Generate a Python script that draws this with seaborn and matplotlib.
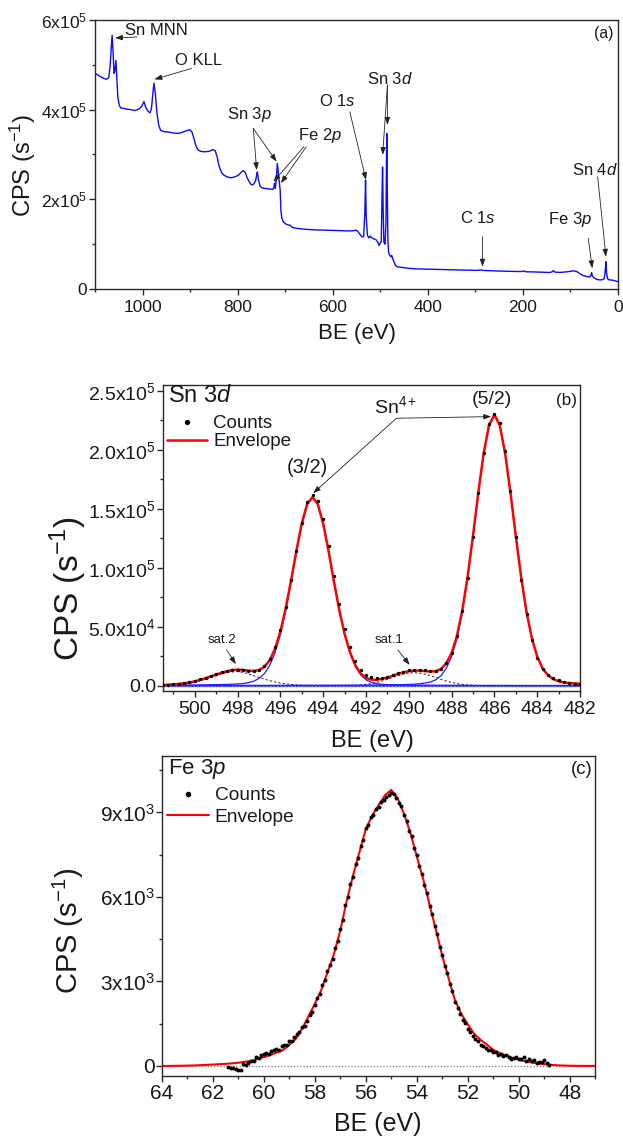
import numpy as np
import matplotlib
matplotlib.use("Agg")
import matplotlib.pyplot as plt
import seaborn as sns
from matplotlib.lines import Line2D
from matplotlib.ticker import FixedLocator, FixedFormatter, MultipleLocator

# ---------------- (a) survey spectrum ----------------
survey_be = [1100, 1092, 1084, 1076, 1071, 1068, 1066, 1064, 1062, 1060,
             1058, 1056, 1054, 1052, 1049, 1046, 1040, 1032, 1024, 1016,
             1008, 1002, 997, 993, 988, 984, 981, 978, 976, 973,
             970, 966, 962, 955, 945, 935, 925, 915, 905, 900,
             896, 892, 888, 884, 878, 870, 860, 852, 847, 843,
             839, 834, 829, 822, 814, 806, 798, 792, 788, 784,
             780, 775, 771, 766, 762, 760, 758.5, 756.5, 753, 748,
             740, 732, 726, 723.5, 722.5, 721, 719, 716.5, 714.5, 712.5,
             710.5, 709, 707, 704, 699, 694, 690, 686, 680, 670,
             655, 640, 620, 600, 580, 565, 556, 551, 547, 542,
             538, 535, 532.5, 531, 529.5, 527, 524, 521, 518, 514,
             509, 505, 502.5, 500, 498, 496.5, 495.2, 494, 492.5, 490,
             488, 487, 486.3, 485.3, 484, 482.5, 480.5, 478, 476, 474,
             471, 468, 464, 458, 450, 440, 425, 410, 395, 375,
             355, 335, 315, 298, 288, 284, 270, 250, 230, 212,
             202, 198, 194, 180, 160, 145, 139, 136, 132, 122,
             110, 100, 93, 86, 80, 74, 66, 60, 57, 55.5,
             54, 51, 46, 40, 33, 29, 27, 25.5, 24, 22,
             19, 14, 9, 4, 0]
survey_cps = [481000, 476000, 471000, 467500, 472000, 500000, 535000, 566000, 528000, 481000,
              488000, 510000, 470000, 428000, 410000, 404000, 403000, 401000, 400000, 398000,
              401000, 407000, 418000, 404000, 396000, 393000, 405000, 440000, 459000, 435000,
              395000, 365000, 354000, 351000, 350000, 348000, 347000, 350000, 354000, 355000,
              350000, 336000, 320000, 311000, 307000, 306000, 307000, 311000, 308000, 294000,
              274000, 260000, 254000, 250000, 248000, 250000, 254000, 261000, 264000, 260000,
              248000, 238000, 232000, 234000, 242000, 255000, 261000, 245000, 230000, 225000,
              224000, 223000, 222000, 228000, 236000, 224000, 240000, 280000, 258000, 240000,
              220000, 175000, 158000, 150000, 145000, 143000, 142500, 138000, 136000, 134500,
              133000, 132000, 131500, 130500, 130000, 129500, 130000, 131500, 128000, 121000,
              116000, 117000, 170000, 243000, 160000, 120000, 114000, 118000, 114000, 112000,
              110000, 104000, 97000, 103000, 105000, 190000, 272000, 180000, 105000, 100000,
              150000, 280000, 347000, 230000, 110000, 82000, 76000, 72000, 75000, 68000,
              60000, 53000, 49500, 48500, 47500, 46000, 45000, 44500, 44000, 43500,
              43000, 42500, 42000, 41500, 42500, 41500, 41000, 40000, 39500, 39000,
              39000, 40500, 38500, 38000, 37500, 36800, 38000, 41000, 37500, 37000,
              38000, 39500, 40500, 38500, 34000, 30000, 28000, 26500, 30000, 36500,
              29000, 25500, 22000, 20500, 20500, 23000, 38000, 61000, 36000, 23000,
              20500, 20000, 19000, 17500, 16300]

# ---------------- (b) Sn 3d ----------------
sn_be = np.arange(501.5, 481.9, -0.25)
sn_counts = [500, 750, 1100, 1600, 2300, 3000, 4000, 5300,
             6800, 8300, 9800, 11200, 12300, 13100, 13400, 13100,
             12500, 12700, 13600, 16900, 23000, 33000, 47500, 66500,
             89500, 114000, 138000, 155500, 161500, 157000, 141000, 118500,
             93000, 69000, 48500, 32500, 21000, 13500, 9200, 7300,
             6600, 6900, 7800, 9200, 10800, 12000, 13000, 13400,
             13300, 12900, 12600, 12800, 14500, 19500, 28000, 42000,
             63000, 91500, 126000, 163000, 197000, 222000, 230000, 222500,
             199000, 165000, 126000, 90000, 60500, 38500, 23500, 14500,
             9200, 6300, 4600, 3300, 2400, 1800, 1400]
sn_envelope = [647, 819, 1074, 1452, 1989, 2738, 3716, 4932,
               6355, 7922, 9510, 11004, 12255, 13175, 13663, 13354,
               12732, 12485, 13291, 16032, 21649, 31359, 45990, 65719,
               89427, 114689, 137677, 154032, 159965, 153912, 137394, 114144,
               88527, 64316, 43958, 28543, 17311, 10316, 6597, 5114,
               5004, 5774, 6985, 8480, 10002, 11340, 12292, 12770,
               12772, 12420, 11992, 12235, 14135, 18952, 27649, 42222,
               63850, 92752, 127334, 164055, 197390, 221086, 229706, 221026,
               197266, 163820, 126911, 92021, 62640, 40305, 24762, 14821,
               8873, 5564, 3770, 2803, 2249, 1925, 1670]
sn_comp32 = [367, 400, 430, 462, 494, 540, 590, 650,
             718, 798, 877, 973, 1085, 1260, 1483, 1866,
             2536, 3780, 6077, 10208, 17114, 27913, 43432, 63848,
             88092, 113739, 136979, 153487, 159500, 153487, 136979, 113739,
             88092, 63848, 43432, 27913, 16500, 9200, 5000, 2800,
             1700, 1200, 900, 750, 650, 580, 520, 470,
             430, 400, 370, 345, 320, 300, 280, 265,
             250, 237, 225, 214, 204, 195, 186, 178,
             171, 164, 158, 152, 147, 142, 137, 133,
             129, 125, 121, 118, 115, 112, 109]
sn_comp52 = [110, 113, 117, 121, 125, 129, 133, 138,
             143, 148, 154, 160, 166, 173, 180, 188,
             196, 205, 214, 224, 235, 246, 258, 271,
             285, 300, 318, 335, 355, 375, 395, 405,
             415, 425, 435, 445, 455, 470, 490, 520,
             560, 610, 670, 740, 830, 940, 1080, 1300,
             1650, 2200, 3100, 4900, 8400, 14688, 24625, 40163,
             62493, 91869, 126753, 163656, 197095, 220848, 229500, 220848,
             197095, 163656, 126753, 91869, 62493, 40163, 24625, 14688,
             8744, 5439, 3649, 2685, 2134, 1813, 1561]
# satellites (sat.2 from 501.5 to 493.75 eV, sat.1 from 493.5 to 486.0 eV)
sn_sat2 = [170, 306, 527, 869, 1370, 2069, 2993, 4144,
           5494, 6976, 8479, 9871, 11004, 11742, 12000, 11300,
           10000, 8500, 7000, 5600, 4300, 3200, 2300, 1600,
           1050, 650, 380, 210, 110, 50, 20, 0]
sn_sat1 = [20, 43, 91, 185, 356, 646, 1107, 1794,
           2744, 3964, 5415, 6990, 8522, 9820, 10692, 11000,
           10692, 9820, 8522, 6990, 5415, 3964, 2744, 1794,
           1107, 646, 356, 185, 91, 43, 20]
sn_bg_be = [501.5, 482.0]
sn_bg = [0, 0]

# ---------------- (c) Fe 3p ----------------
fe_env_be = np.arange(64.0, 46.9, -0.25)
fe_envelope = [0, 2, 5, 8, 12, 18, 28, 38,
               50, 62, 76, 92, 115, 145, 185, 240,
               310, 390, 470, 560, 750, 955, 1315, 1750,
               2200, 2680, 3320, 3960, 4810, 5840, 6760, 7580,
               8400, 8880, 9250, 9600, 9800, 9500, 8950, 8270,
               7440, 6640, 5730, 4830, 3910, 3100, 2330, 1840,
               1480, 1140, 930, 760, 570, 460, 370, 290,
               220, 170, 125, 90, 65, 40, 25, 15,
               8, 5, 3, 1, 0]
fe_cnt_be = np.round(np.arange(61.4, 48.75, -0.1), 1)
fe_counts = [-40, -60, -80, -120, -150, -130, 60, 20, 120, 190,
             160, 330, 300, 380, 430, 450, 420, 520, 560, 590,
             560, 700, 760, 740, 880, 900, 1040, 1120, 1210, 1400,
             1420, 1580, 1820, 1930, 2150, 2400, 2560, 2870, 3050, 3380,
             3600, 3810, 4180, 4430, 4870, 5180, 5700, 5980, 6450, 6720,
             7150, 7380, 7800, 8030, 8450, 8550, 8820, 8900, 9120, 9200,
             9380, 9450, 9560, 9600, 9680, 9650, 9520, 9330, 9210, 8900,
             8700, 8350, 8150, 7720, 7480, 7080, 6830, 6430, 6150, 5690,
             5400, 4960, 4680, 4230, 3950, 3540, 3300, 2900, 2650, 2280,
             2050, 1850, 1640, 1520, 1300, 1220, 1080, 960, 880, 760,
             700, 650, 560, 560, 480, 510, 380, 420, 350, 390,
             330, 250, 300, 330, 260, 230, 320, 190, 240, 160,
             210, 120, 140, 150, 220, 90, 30]
fe_bg_be = [64.0, 47.0]
fe_bg = [0, 0]

# ---------------- ticks ----------------
a_xticks = [1000, 800, 600, 400, 200, 0]
a_xticklabels = ["1000", "800", "600", "400", "200", "0"]
a_yticks = [0, 2e5, 4e5, 6e5]
a_yticklabels = ["0", r"2x10$^{\mathregular{5}}$", r"4x10$^{\mathregular{5}}$", r"6x10$^{\mathregular{5}}$"]
b_xticks = [500, 498, 496, 494, 492, 490, 488, 486, 484, 482]
b_xticklabels = ["500", "498", "496", "494", "492", "490", "488", "486", "484", "482"]
b_yticks = [0, 5e4, 1e5, 1.5e5, 2e5, 2.5e5]
b_yticklabels = ["0.0", r"5.0x10$^{\mathregular{4}}$", r"1.0x10$^{\mathregular{5}}$",
                 r"1.5x10$^{\mathregular{5}}$", r"2.0x10$^{\mathregular{5}}$", r"2.5x10$^{\mathregular{5}}$"]
c_xticks = [64, 62, 60, 58, 56, 54, 52, 50, 48]
c_xticklabels = ["64", "62", "60", "58", "56", "54", "52", "50", "48"]
c_yticks = [0, 3000, 6000, 9000]
c_yticklabels = ["0", r"3x10$^{\mathregular{3}}$", r"6x10$^{\mathregular{3}}$", r"9x10$^{\mathregular{3}}$"]

# ---------------- style ----------------
sns.set_style("ticks")
plt.rcParams["font.family"] = ["Liberation Sans", "DejaVu Sans"]
plt.rcParams["mathtext.fontset"] = "custom"
plt.rcParams["mathtext.rm"] = "Liberation Sans"
plt.rcParams["mathtext.it"] = "Liberation Sans:italic"
plt.rcParams["mathtext.bf"] = "Liberation Sans:bold"
TXT = "#1a1a1a"
SPINE = "#2a2a2a"

fig = plt.figure(figsize=(6.23, 11.38), dpi=100)
axa = fig.add_axes([0.15249, 0.74605, 0.83949, 0.23638])
axb = fig.add_axes([0.26116, 0.39279, 0.66982, 0.26889])
axc = fig.add_axes([0.25955, 0.05475, 0.69599, 0.28093])


def style(ax, xt, xtl, xminor, yt, ytl, yminor, size, xpad, ypad):
    ax.xaxis.set_major_locator(FixedLocator(xt))
    ax.xaxis.set_major_formatter(FixedFormatter(xtl))
    ax.yaxis.set_major_locator(FixedLocator(yt))
    ax.yaxis.set_major_formatter(FixedFormatter(ytl))
    ax.xaxis.set_minor_locator(MultipleLocator(xminor))
    ax.yaxis.set_minor_locator(MultipleLocator(yminor))
    ax.tick_params(which="both", direction="out", top=False, right=False,
                   color=SPINE, width=1.0, labelcolor=TXT)
    ax.tick_params(which="major", length=4.3)
    ax.tick_params(which="minor", length=2.4)
    ax.tick_params(axis="x", labelsize=size, pad=xpad)
    ax.tick_params(axis="y", labelsize=size, pad=ypad)
    for s in ax.spines.values():
        s.set_color(SPINE)
        s.set_linewidth(1.0)


def arrow(ax, start, tip):
    ax.annotate("", xy=tip, xytext=start,
                arrowprops=dict(arrowstyle="-|>,head_length=0.45,head_width=0.16",
                                lw=0.6, color="#222222", shrinkA=0, shrinkB=0))


# ---------- panel (a) ----------
sns.lineplot(x=survey_be, y=survey_cps, ax=axa, color="#0a0aff", lw=1.0)
axa.set_xlim(1100, 0)
axa.set_ylim(0, 6e5)
style(axa, a_xticks, a_xticklabels, 100, a_yticks, a_yticklabels, 1e5, 12.5, 3.5, 1.2)
axa.set_xlabel("BE (eV)", fontsize=16, color=TXT)
axa.set_ylabel(r"CPS (s$^{\mathregular{-1}}$)", fontsize=17, color=TXT)
axa.xaxis.set_label_coords(0.5, -0.1636)
axa.xaxis.label.set_va("center")
axa.yaxis.set_label_coords(-0.1377, 0.461)
axa.yaxis.label.set_va("center")

fa = 12
axa.text(1037, 577500, "Sn MNN", fontsize=fa, ha="left", va="center", color=TXT)
arrow(axa, (1012, 562000), (1058, 560000))
axa.text(882, 510700, "O KLL", fontsize=fa, ha="center", va="center", color=TXT)
arrow(axa, (897, 492000), (975, 467600))
axa.text(776, 390000, r"Sn 3$\mathit{p}$", fontsize=fa, ha="center", va="center", color=TXT)
arrow(axa, (767, 358000), (760, 265000))
arrow(axa, (767, 358000), (718, 284000))
axa.text(627, 343400, r"Fe 2$\mathit{p}$", fontsize=fa, ha="center", va="center", color=TXT)
arrow(axa, (661, 317000), (725, 239000))
arrow(axa, (656, 317000), (709, 236000))
axa.text(590, 419200, r"O 1$\mathit{s}$", fontsize=fa, ha="center", va="center", color=TXT)
arrow(axa, (564, 395000), (530, 243000))
axa.text(480, 468300, r"Sn 3$\mathit{d}$", fontsize=fa, ha="center", va="center", color=TXT)
arrow(axa, (485, 455000), (495, 299000))
arrow(axa, (485, 455000), (485, 366000))
axa.text(294, 158300, r"C 1$\mathit{s}$", fontsize=fa, ha="center", va="center", color=TXT)
arrow(axa, (285, 116600), (285, 49700))
axa.text(102, 153900, r"Fe 3$\mathit{p}$", fontsize=fa, ha="center", va="center", color=TXT)
arrow(axa, (62.6, 113000), (54.1, 46200))
axa.text(48.5, 266500, r"Sn 4$\mathit{d}$", fontsize=fa, ha="center", va="center", color=TXT)
arrow(axa, (42.8, 250400), (25.3, 72000))
axa.text(29.5, 570900, "(a)", fontsize=11.3, ha="center", va="center", color=TXT)

# ---------- panel (b) ----------
sns.lineplot(x=sn_bg_be, y=sn_bg, ax=axb, color="#3c3cff", lw=1.6)
sns.lineplot(x=sn_bg_be, y=sn_bg, ax=axb, color="#a0a0c8", lw=1.0, linestyle=(0, (1, 1.5)))
sns.lineplot(x=sn_be[:len(sn_sat2)], y=sn_sat2, ax=axb, color="#333333", lw=0.75,
             linestyle=(0, (2.2, 2.0)))
sns.lineplot(x=sn_be[32:32 + len(sn_sat1)], y=sn_sat1, ax=axb, color="#333333", lw=0.75,
             linestyle=(0, (2.2, 2.0)))
sns.lineplot(x=sn_be, y=sn_comp32, ax=axb, color="#1e1eff", lw=0.9)
sns.lineplot(x=sn_be, y=sn_comp52, ax=axb, color="#1e1eff", lw=0.9)
sns.lineplot(x=sn_be, y=sn_envelope, ax=axb, color="#ff0000", lw=1.8)
sns.scatterplot(x=sn_be, y=sn_counts, ax=axb, color="black", s=6, linewidth=0, zorder=5)
axb.set_xlim(501.5, 482)
axb.set_ylim(-4500, 255000)
style(axb, b_xticks, b_xticklabels, 1, b_yticks, b_yticklabels, 2.5e4, 14, 3.0, 0.5)
axb.set_xlabel("BE (eV)", fontsize=17, color=TXT)
axb.set_ylabel(r"CPS (s$^{\mathregular{-1}}$)", fontsize=24, color=TXT)
axb.xaxis.set_label_coords(0.5016, -0.1634)
axb.xaxis.label.set_va("center")
axb.yaxis.set_label_coords(-0.226, 0.336)
axb.yaxis.label.set_va("center")

axb.text(0.013, 0.964, r"Sn 3$\mathit{d}$", transform=axb.transAxes, fontsize=17,
         ha="left", va="center", color=TXT)
hb = [Line2D([], [], marker="o", ls="none", color="black", markersize=2.8),
      Line2D([], [], color="#ff0000", lw=1.8)]
axb.legend(hb, ["Counts", "Envelope"], loc="upper left", bbox_to_anchor=(0.0096, 0.902),
           frameon=False, fontsize=13.5, handlelength=2.13, handletextpad=0.34,
           labelspacing=0.05, borderpad=0, borderaxespad=0, labelcolor=TXT)
axb.text(494.72, 184700, "(3/2)", fontsize=14.5, ha="center", va="center", color=TXT)
axb.text(486.11, 242300, "(5/2)", fontsize=14, ha="center", va="center", color=TXT)
axb.text(490.62, 231300, r"Sn$^{\mathregular{4+}}$", fontsize=14, ha="center", va="baseline", color=TXT)
arrow(axb, (490.58, 226800), (486.15, 228200))
arrow(axb, (490.58, 226800), (494.47, 163200))
axb.text(498.71, 38800, "sat.2", fontsize=9.5, ha="center", va="center", color=TXT)
arrow(axb, (498.51, 30300), (498.08, 18200))
axb.text(490.94, 38800, "sat.1", fontsize=9.5, ha="center", va="center", color=TXT)
arrow(axb, (490.51, 30300), (489.96, 17600))
axb.text(482.63, 241500, "(b)", fontsize=12.3, ha="center", va="center", color=TXT)

# ---------- panel (c) ----------
sns.lineplot(x=fe_bg_be, y=fe_bg, ax=axc, color="#8a8a8a", lw=1.0, linestyle=(0, (1, 1.3)))
sns.lineplot(x=fe_env_be, y=fe_envelope, ax=axc, color="#ff0000", lw=1.5)
sns.scatterplot(x=fe_cnt_be, y=fe_counts, ax=axc, color="black", s=8, linewidth=0, zorder=5)
axc.set_xlim(64, 47)
axc.set_ylim(-345, 11000)
style(axc, c_xticks, c_xticklabels, 1, c_yticks, c_yticklabels, 1500, 15, 1.8, 0.5)
axc.set_xlabel("BE (eV)", fontsize=18, color=TXT)
axc.set_ylabel(r"CPS (s$^{\mathregular{-1}}$)", fontsize=21, color=TXT)
axc.xaxis.set_label_coords(0.4988, -0.151)
axc.xaxis.label.set_va("center")
axc.yaxis.set_label_coords(-0.215, 0.4526)
axc.yaxis.label.set_va("center")
axc.text(0.0145, 0.959, r"Fe 3$\mathit{p}$", transform=axc.transAxes, fontsize=16,
         ha="left", va="center", color=TXT)
hc = [Line2D([], [], marker="o", ls="none", color="black", markersize=3.0),
      Line2D([], [], color="#ff0000", lw=1.5)]
axc.legend(hc, ["Counts", "Envelope"], loc="upper left", bbox_to_anchor=(0.0115, 0.903),
           frameon=False, fontsize=13.8, handlelength=2.2, handletextpad=0.3,
           labelspacing=0.2, borderpad=0, borderaxespad=0, labelcolor=TXT)
axc.text(47.52, 10517, "(c)", fontsize=13.3, ha="center", va="center", color=TXT)

fig.savefig("out.png", dpi=100)
